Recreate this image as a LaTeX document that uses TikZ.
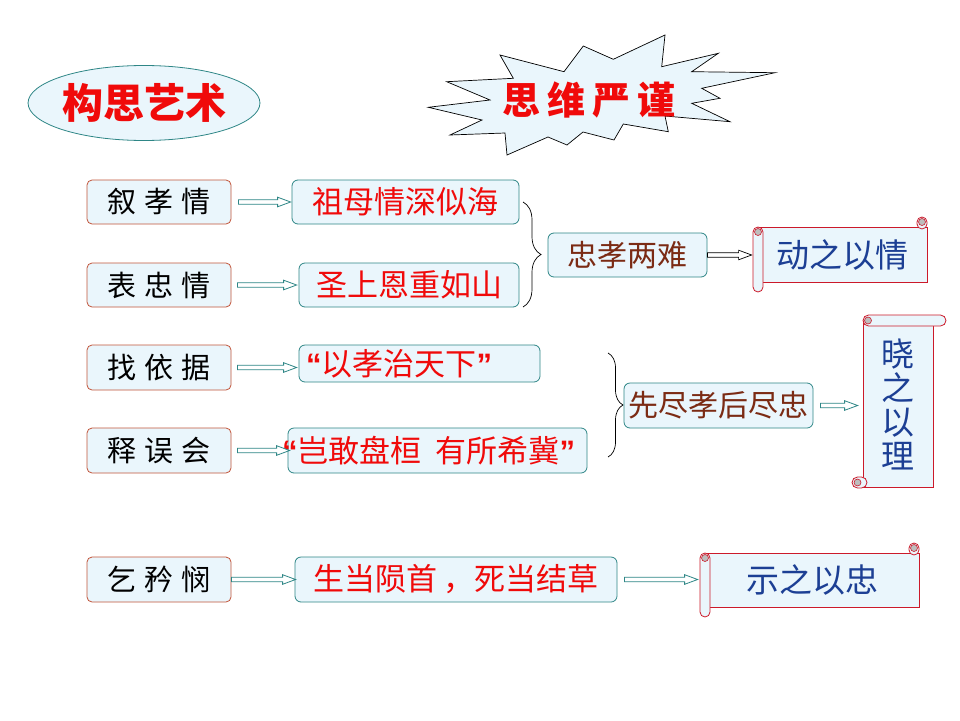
\documentclass[tikz,border=0pt]{standalone}
\usepackage{fontspec}
\usetikzlibrary{shapes.geometric,calc,decorations.pathreplacing}
\newfontfamily\cjk{Noto Sans CJK SC}
\newfontfamily\latq{Liberation Sans}
\newcommand\myLQ{{\latq\bfseries “}}
\newcommand\myRQ{{\latq\bfseries ”}}
\definecolor{boxfill}{HTML}{EAF6FC}
\definecolor{lbord}{HTML}{C2553A}
\definecolor{tealb}{HTML}{2E8686}
\definecolor{redtxt}{HTML}{F00A0A}
\definecolor{browntxt}{HTML}{7B2B14}
\definecolor{bluetxt}{HTML}{1C3F94}
\definecolor{scrollred}{HTML}{CC1A2A}
\definecolor{dotgray}{HTML}{BDBDBD}
\tikzset{
  lbox/.style={draw=lbord, fill=boxfill, rounded corners=5pt, inner sep=0pt, line width=0.8pt,
    minimum width=144pt, minimum height=44pt, font=\cjk\fontsize{29}{31}\selectfont},
  mbox/.style={draw=tealb, fill=boxfill, rounded corners=6pt, inner sep=0pt, line width=0.8pt,
    minimum height=44pt, font=\cjk\fontsize{31}{34}\selectfont, text=redtxt},
  cbox/.style={mbox, text=browntxt, font=\cjk\fontsize{30}{33}\selectfont},
  scrollbody/.style={draw=scrollred, fill=boxfill, inner sep=0pt, line width=0.8pt,
    font=\cjk\fontsize{33}{36}\selectfont, text=bluetxt},
  scrollline/.style={draw=scrollred, fill=boxfill, line width=0.8pt},
  scrolldot/.style={draw=scrollred, fill=dotgray, line width=0.6pt},
  blockarr/.style={to path={let \p1=(\tikztostart), \p2=(\tikztotarget) in
    (\x1,\y1+2.2pt) -- (\x2-13pt,\y1+2.2pt) -- (\x2-13pt,\y1+4.8pt) -- (\x2,\y1)
    -- (\x2-13pt,\y1-4.8pt) -- (\x2-13pt,\y1-2.2pt) -- (\x1,\y1-2.2pt) -- cycle}},
  arrT/.style={blockarr, draw=tealb, fill=white, line width=0.8pt},
  arrK/.style={blockarr, draw=black, fill=white, line width=0.7pt},
  bracestyle/.style={decorate, line width=0.7pt},
}
\begin{document}
\begin{tikzpicture}[x=1pt,y=-1pt]
\useasboundingbox (0,0) rectangle (960,720);
\fill[white] (0,0) rectangle (960,720);

% title ellipse
\node[ellipse, draw=tealb, fill=boxfill, line width=0.8pt, minimum width=218pt, minimum height=75pt,
  inner sep=0pt, text=redtxt, font=\cjk\bfseries\fontsize{41}{43}\selectfont] (title) at (144,103) {构思艺术};

% starburst
\draw[fill=boxfill, line width=0.7pt] (428.3,107.3) -- (490,100) -- (446.7,81.7) -- (513.3,78.3) -- (500,55)
  -- (564,71.7) -- (583.3,46) -- (613.3,59.3) -- (665,35) -- (661.7,66.7) -- (718.3,53.3) -- (691.7,71.7)
  -- (775,72.7) -- (701.7,88.3) -- (720,98.3) -- (691.7,103.3) -- (730,121.7) -- (665,116) -- (668.3,131.7)
  -- (623.3,124) -- (614,140) -- (583,132) -- (567,145) -- (548,137) -- (507,155) -- (505,133) -- (450,135)
  -- (482,120) -- cycle;
\node[text=redtxt, font=\cjk\bfseries\fontsize{38}{40}\selectfont] (star) at (589,100)
  {思\hspace{7pt}维\hspace{7pt}严\hspace{7pt}谨};

% left column
\node[lbox] (b1) at (159,202) {叙\hspace{8pt}孝\hspace{8pt}情};
\node[lbox] (b2) at (159,285) {表\hspace{8pt}忠\hspace{8pt}情};
\node[lbox, minimum height=45pt] (b3) at (159,367.5) {找\hspace{8pt}依\hspace{8pt}据};
\node[lbox, minimum height=45pt] (b4) at (159,450.5) {释\hspace{8pt}误\hspace{8pt}会};
\node[lbox, minimum height=45pt] (b5) at (159,579.5) {乞\hspace{8pt}矜\hspace{8pt}悯};

% middle column
\node[mbox, minimum width=227pt] (m1) at (405.5,202) {祖母情深似海};
\node[mbox, minimum width=220pt] (m2) at (409,285) {圣上恩重如山};
\node[mbox, minimum height=37pt, text width=227pt, inner xsep=7pt, align=left] (m3) at (419.5,363.5) {\myLQ 以孝治天下\myRQ};
\node[mbox, minimum height=45pt, text width=299pt, align=left] (m4) at (437.5,450.5) {\hspace{-6pt}\myLQ 岂敢盘桓\hspace{14pt}有所希冀\myRQ};
\node[mbox, minimum width=322pt, minimum height=45pt] (m5) at (456,579.5) {生当陨首\hspace{6pt}，死当结草};

% braces
\coordinate (br1a) at (523,202);
\coordinate (br1b) at (523,307);
\draw[bracestyle, decoration={brace, amplitude=18pt}] (br1a) -- (br1b);
\coordinate (br2a) at (608,353);
\coordinate (br2b) at (608,457);
\draw[bracestyle, decoration={brace, amplitude=15pt}] (br2a) -- (br2b);

% conclusion boxes
\node[cbox, minimum width=159pt] (c1) at (627.5,255) {忠孝两难};
\node[cbox, minimum width=189pt, minimum height=45pt] (c2) at (718.5,405.5) {先尽孝后尽忠};

% scroll 1 (L=753,T=217,R=927,B=292)
\node[scrollbody, minimum width=169pt, minimum height=55pt] (s1) at (842.5,254.5) {动之以情};
\draw[scrollline, rounded corners=5pt] (917,217) rectangle (927,229);
\draw[scrolldot] (922,222) circle (3.5);
\draw[scrollline, rounded corners=5pt] (753,227) rectangle (763,292);
\draw[scrolldot] (758,232) circle (3.5);

% scroll 3 (L=700,T=543,R=919,B=617)
\node[scrollbody, minimum width=214pt, minimum height=54pt] (s3) at (812,580) {示之以忠};
\draw[scrollline, rounded corners=5pt] (909,543) rectangle (919,555);
\draw[scrolldot] (914,548) circle (3.5);
\draw[scrollline, rounded corners=5pt] (700,553) rectangle (710,617);
\draw[scrolldot] (705,558) circle (3.5);

% scroll 2 vertical (L=852,T=315,R=946,B=490)
\node[scrollbody, minimum width=70pt, minimum height=166pt, align=center,
  font=\cjk\fontsize{33}{34}\selectfont] (s2) at (898,404) {晓\\之\\以\\理};
\draw[scrollline, rounded corners=5.5pt] (863,315) rectangle (946,326);
\draw[scrolldot] (868,320.5) circle (3.5);
\draw[scrollline, rounded corners=5.5pt] (852,477) rectangle (867,488);
\draw[scrolldot] (857.5,482.5) circle (3.5);

% arrows
\draw[arrT] ([xshift=7pt]b1.east) to ([xshift=-1pt]m1.west);
\draw[arrT] ([xshift=6pt]b2.east) to ([xshift=-2pt]m2.west);
\draw[arrT] ([xshift=6pt]b3.east) to ([xshift=-2pt]m3.west);
\draw[arrT] ([xshift=6pt]b4.east) to ([xshift=2pt]m4.west);
\draw[arrT] ([xshift=0pt]b5.east) to ([xshift=1pt]m5.west);
\draw[arrK] (c1.east) to ([xshift=-6pt]s1.west);
\draw[arrT] ([xshift=7pt]c2.east) to ([xshift=-5pt]s2.west);
\draw[arrT] ([xshift=7pt]m5.east) to ([xshift=-7pt]s3.west);
\end{tikzpicture}
\end{document}
